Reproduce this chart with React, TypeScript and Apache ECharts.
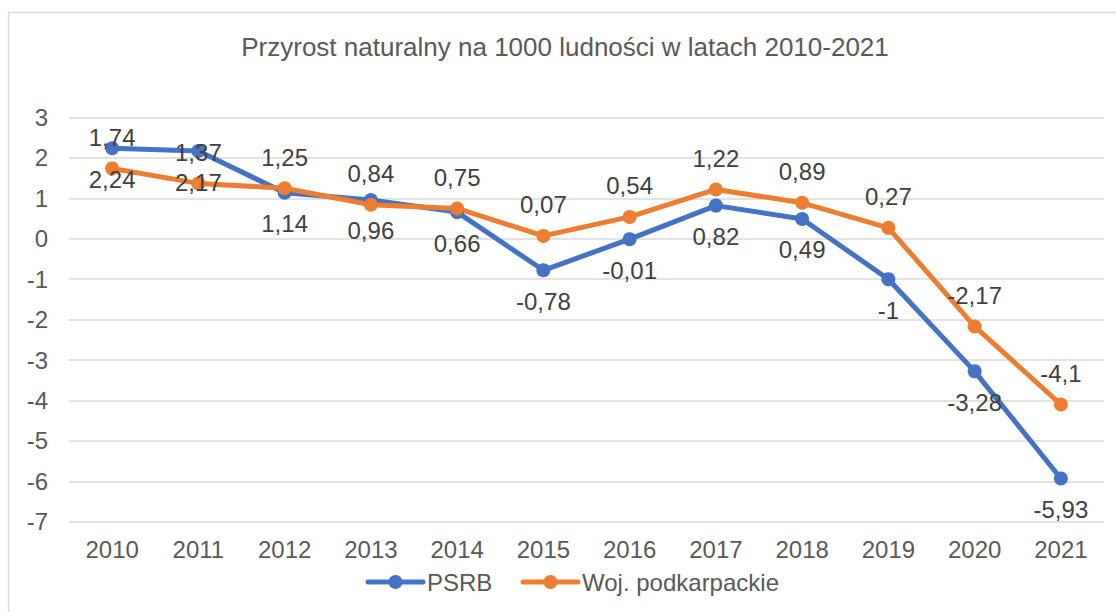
import React, { useEffect, useRef } from "react";
import * as echarts from "echarts";

const years = ["2010", "2011", "2012", "2013", "2014", "2015", "2016", "2017", "2018", "2019", "2020", "2021"];
const psrb = [2.24, 2.17, 1.14, 0.96, 0.66, -0.78, -0.01, 0.82, 0.49, -1, -3.28, -5.93];
const podkarpackie = [1.74, 1.37, 1.25, 0.84, 0.75, 0.07, 0.54, 1.22, 0.89, 0.27, -2.17, -4.1];
const seriesNames = ["PSRB", "Woj. podkarpackie"];
const seriesColors = ["#4472C4", "#ED7D31"];
const titleText = "Przyrost naturalny na 1000 ludności w latach 2010-2021";

const FONT = '"Liberation Sans", Arial, sans-serif';
const fmt = (v: number) => String(v).replace(".", ",");

function legendItem(x: number, y: number, name: string, color: string) {
  return {
    type: "group",
    children: [
      {
        type: "line",
        shape: { x1: x, y1: y, x2: x + 55, y2: y },
        style: { stroke: color, lineWidth: 5, lineCap: "round" },
      },
      {
        type: "circle",
        shape: { cx: x + 27.5, cy: y, r: 7 },
        style: { fill: color },
      },
      {
        type: "text",
        x: x + 59,
        y: y,
        style: {
          text: name,
          fill: "#595959",
          font: `24px ${FONT}`,
          textAlign: "left",
          textVerticalAlign: "middle",
        },
      },
    ],
  };
}

export default function App() {
  const ref = useRef<HTMLDivElement>(null);
  useEffect(() => {
    if (!ref.current) return;
    const chart = echarts.init(ref.current, undefined, { renderer: "svg" });
    chart.setOption({
      animation: false,
      backgroundColor: "#ffffff",
      textStyle: { fontFamily: FONT },
      graphic: [
        {
          type: "rect",
          shape: { x: 8.5, y: 12.5, width: 1300, height: 800 },
          style: { fill: "none", stroke: "#d9d9d9", lineWidth: 1.5 },
          silent: true,
          z: -10,
        },
        {
          type: "text",
          x: 565,
          y: 47,
          style: {
            text: titleText,
            fill: "#595959",
            font: `26px ${FONT}`,
            textAlign: "center",
            textVerticalAlign: "middle",
          },
        },
        legendItem(368, 582, seriesNames[0], seriesColors[0]),
        legendItem(523, 582, seriesNames[1], seriesColors[1]),
      ],
      grid: { left: 69, right: 12, top: 117.5, bottom: 90.3, containLabel: false },
      xAxis: {
        type: "category",
        data: years,
        boundaryGap: true,
        axisLine: { show: false },
        axisTick: { show: false },
        axisLabel: { color: "#595959", fontSize: 24, fontFamily: FONT, margin: 16 },
      },
      yAxis: {
        type: "value",
        min: -7,
        max: 3,
        interval: 1,
        axisLine: { show: false },
        axisTick: { show: false },
        axisLabel: { color: "#595959", fontSize: 24, fontFamily: FONT, margin: 21 },
        splitLine: { lineStyle: { color: "#d9d9d9", width: 1.5 } },
      },
      series: [
        {
          name: seriesNames[0],
          type: "line",
          data: psrb,
          color: seriesColors[0],
          symbol: "circle",
          symbolSize: 14,
          lineStyle: { width: 5, color: seriesColors[0] },
          itemStyle: { color: seriesColors[0] },
          label: {
            show: true,
            position: "bottom",
            distance: 12,
            color: "#404040",
            fontSize: 24,
            fontFamily: FONT,
            formatter: (p: any) => fmt(p.value),
          },
        },
        {
          name: seriesNames[1],
          type: "line",
          data: podkarpackie,
          color: seriesColors[1],
          symbol: "circle",
          symbolSize: 14,
          lineStyle: { width: 5, color: seriesColors[1] },
          itemStyle: { color: seriesColors[1] },
          label: {
            show: true,
            position: "top",
            distance: 12,
            color: "#404040",
            fontSize: 24,
            fontFamily: FONT,
            formatter: (p: any) => fmt(p.value),
          },
        },
      ],
    });
    return () => chart.dispose();
  }, []);
  return (
    <div
      ref={ref}
      style={{ position: "absolute", left: 0, top: 0, width: 1116, height: 612 }}
    />
  );
}
